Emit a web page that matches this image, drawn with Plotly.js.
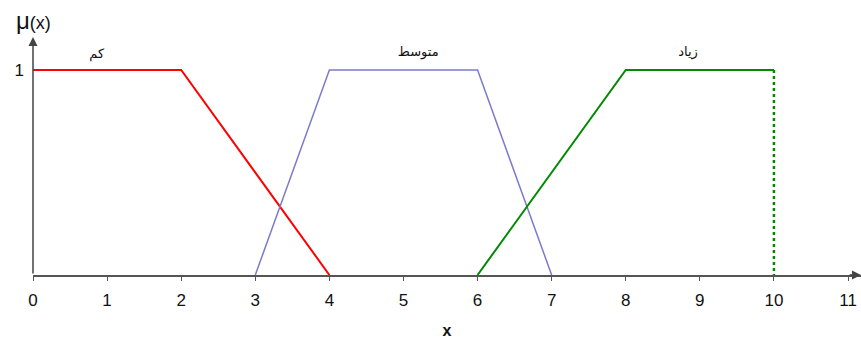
<!DOCTYPE html>
<html>
<head>
<meta charset="utf-8">
<script src="https://cdn.plot.ly/plotly-3.0.1.min.js"></script>
<style>html,body{margin:0;padding:0;background:#fff}#chart{width:861px;height:339px}</style>
</head>
<body>
<div id="chart"></div>
<script>
// Membership functions
var lowX = [0, 2, 4];
var lowY = [1, 1, 0];
var midX = [3, 4, 6, 7];
var midY = [0, 1, 1, 0];
var highX = [6, 8, 10];
var highY = [0, 1, 1];
var highEdgeX = [10, 10];
var highEdgeY = [1, 0];
var labelText = ["کم", "متوسط", "زیاد"];
var labelX = [0.86, 5.2, 8.84];
var labelY = [1.075, 1.085, 1.085];
var xTicks = [0, 1, 2, 3, 4, 5, 6, 7, 8, 9, 10, 11];
var yTicks = [1];

var traces = [
  {x: lowX, y: lowY, mode: 'lines', line: {color: '#ff0000', width: 2}, cliponaxis: false, hoverinfo: 'skip'},
  {x: midX, y: midY, mode: 'lines', line: {color: '#7b7bcc', width: 1.5}, cliponaxis: false, hoverinfo: 'skip'},
  {x: highX, y: highY, mode: 'lines', line: {color: '#008a00', width: 2}, cliponaxis: false, hoverinfo: 'skip'},
  {x: highEdgeX, y: highEdgeY, mode: 'lines', line: {color: '#008a00', width: 2.5, dash: 'dot'}, cliponaxis: false, hoverinfo: 'skip'},
  {x: labelX, y: labelY, mode: 'text', text: labelText, textfont: {family: 'DejaVu Sans', size: 13, color: '#111'}, cliponaxis: false, hoverinfo: 'skip'}
];

var layout = {
  width: 861, height: 339,
  margin: {l: 33, r: 0, t: 20, b: 64},
  paper_bgcolor: '#fff', plot_bgcolor: '#fff',
  showlegend: false,
  font: {family: 'Liberation Sans, Arial', size: 17, color: '#111'},
  xaxis: {
    range: [0, 11.175], showgrid: false, zeroline: false,
    showline: true, linecolor: '#555', linewidth: 1.5,
    tickvals: xTicks, ticks: 'outside', ticklen: 4, tickcolor: '#555', tickwidth: 1,
    ticklabelstandoff: 5,
    tickfont: {family: 'Liberation Sans, Arial', size: 17, color: '#111'},
    title: {text: '<b>x</b>', font: {family: 'Liberation Sans, Arial', size: 16, color: '#111'}, standoff: 19}
  },
  yaxis: {
    range: [0, 1.244], showgrid: false, zeroline: false, showline: false,
    tickvals: yTicks, ticks: '', ticklabelstandoff: 8,
    tickfont: {family: 'Liberation Sans, Arial', size: 17, color: '#111'}
  },
  annotations: [
    {x: 0, y: 1.161, ax: 0, ay: 0, xref: 'x', yref: 'y', axref: 'x', ayref: 'y',
     text: '', showarrow: true, arrowhead: 2, arrowsize: 1.2, arrowwidth: 1.5, arrowcolor: '#444'},
    {x: 11.175, y: 0, ax: 11.0, ay: 0, xref: 'x', yref: 'y', axref: 'x', ayref: 'y',
     text: '', showarrow: true, arrowhead: 2, arrowsize: 1.2, arrowwidth: 1.5, arrowcolor: '#444'},
    {x: 0, y: 1.244, xref: 'x', yref: 'y', xanchor: 'center', yanchor: 'bottom', yshift: -16,
     text: '<span style="font-size:24px">μ</span>(x)', showarrow: false, font: {family: 'Liberation Sans, Arial', size: 18, color: '#111'}}
  ]
};

Plotly.newPlot('chart', traces, layout, {staticPlot: true, displayModeBar: false});
</script>
</body>
</html>
